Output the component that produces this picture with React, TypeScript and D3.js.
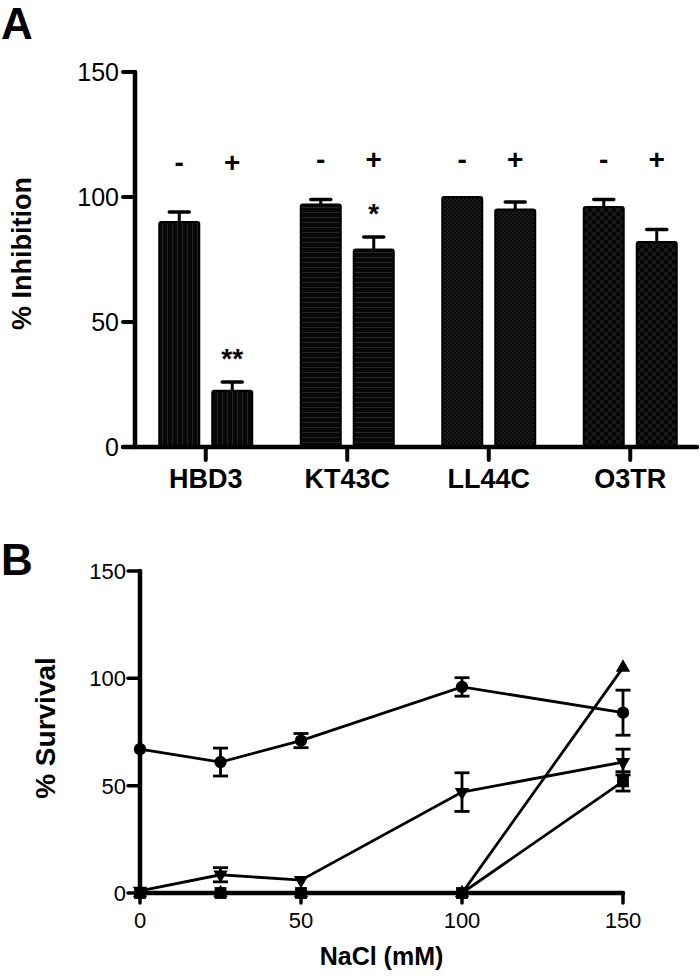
import React from "react";
import * as d3 from "d3";

// ---------- Panel A data ----------
const categories = ["HBD3", "KT43C", "LL44C", "O3TR"];
const conditions = ["-", "+"];
const inhibitionMinus = [90, 97, 100, 96];
const inhibitionMinusErr = [4, 2, 0, 3];
const inhibitionPlus = [22.5, 79, 95, 82];
const inhibitionPlusErr = [3.5, 5, 3, 5];
const significance = ["**", "*", "", ""];
const yTicksA = [0, 50, 100, 150];

// ---------- Panel B data ----------
const nacl = [0, 25, 50, 100, 150];
const circleVals = [67, 61, 71, 96, 84];
const circleErr = [0, 6.5, 3.3, 4.3, 10.5];
const downTriVals = [1, 8.5, 6, 47, 61];
const downTriErr = [0, 3.3, 0, 9, 6];
const squareVals = [0, 0, 0, 0, 52];
const squareErr = [0, 0, 0, 0, 4.5];
const upTriVals = [0, 0, 0, 0, 105];
const upTriErr = [0, 0, 0, 0, 0];
const xTicksB = [0, 50, 100, 150];
const yTicksB = [0, 50, 100, 150];

const FONT = "'Liberation Sans', Arial, Helvetica, sans-serif";
const patterns = ["patV", "patH", "patFine", "patChk"];

export default function App() {
  // Panel A scales
  const yA = d3.scaleLinear().domain([0, 150]).range([447, 72]);
  const xA = d3.scaleBand<string>().domain(categories).range([135, 701]).padding(0);
  const inner = d3.scaleBand<string>().domain(conditions).range([-46.5, 46.5]).paddingInner(0.245);

  // Panel B scales
  const xB = d3.scaleLinear().domain([0, 150]).range([140, 623]);
  const yB = d3.scaleLinear().domain([0, 150]).range([893, 571]);
  const line = d3
    .line<[number, number]>()
    .x((d) => xB(d[0]))
    .y((d) => yB(d[1]));

  const seriesB = [
    { vals: circleVals, err: circleErr, shape: "circle" },
    { vals: downTriVals, err: downTriErr, shape: "down" },
    { vals: squareVals, err: squareErr, shape: "square" },
    { vals: upTriVals, err: upTriErr, shape: "up" },
  ];

  const sym = {
    circle: d3.symbol(d3.symbolCircle, 120)(),
    square: d3.symbol(d3.symbolSquare, 140)(),
    up: d3.symbol(d3.symbolTriangle, 90)(),
  };

  const marker = (shape: string, x: number, y: number, key: string) => {
    if (shape === "down") {
      return <path key={key} d={sym.up as string} transform={`translate(${x},${y}) rotate(180)`} fill="#000" />;
    }
    return <path key={key} d={(sym as any)[shape]} transform={`translate(${x},${y})`} fill="#000" />;
  };

  return (
    <svg width={700} height={977} style={{ display: "block", position: "absolute", left: 0, top: 0, background: "#fff" }} fontFamily={FONT}>
      <defs>
        <pattern id="patV" width={5} height={5} patternUnits="userSpaceOnUse">
          <rect width={5} height={5} fill="#080808" />
          <line x1={2.5} y1={0} x2={2.5} y2={5} stroke="#252525" strokeWidth={1} />
        </pattern>
        <pattern id="patH" width={5} height={5} patternUnits="userSpaceOnUse">
          <rect width={5} height={5} fill="#080808" />
          <line x1={0} y1={2.5} x2={5} y2={2.5} stroke="#252525" strokeWidth={1} />
        </pattern>
        <pattern id="patFine" width={4} height={4} patternUnits="userSpaceOnUse">
          <rect width={4} height={4} fill="#080808" />
          <rect width={2} height={2} fill="#1a1a1a" />
          <rect x={2} y={2} width={2} height={2} fill="#1a1a1a" />
        </pattern>
        <pattern id="patChk" width={8} height={8} patternUnits="userSpaceOnUse">
          <rect width={8} height={8} fill="#060606" />
          <rect width={4} height={4} fill="#181818" />
          <rect x={4} y={4} width={4} height={4} fill="#181818" />
        </pattern>
      </defs>

      {/* ---------------- Panel A ---------------- */}
      <text x={1} y={39} fontSize={44} fontWeight="bold">A</text>
      <text
        transform={`translate(31,${(yA(0) + yA(150)) / 2 - 6}) rotate(-90)`}
        textAnchor="middle"
        fontSize={27}
        fontWeight="bold"
      >
        % Inhibition
      </text>

      {/* bars */}
      {categories.map((c, i) => {
        const cx = (xA(c) as number) + xA.bandwidth() / 2;
        const vals = [inhibitionMinus[i], inhibitionPlus[i]];
        const errs = [inhibitionMinusErr[i], inhibitionPlusErr[i]];
        return (
          <g key={c}>
            {conditions.map((cond, j) => {
              const x0 = cx + (inner(cond) as number);
              const w = inner.bandwidth();
              const top = yA(vals[j]);
              const bx = x0 + w / 2;
              return (
                <g key={cond}>
                  {errs[j] > 0 && (
                    <g stroke="#000" strokeWidth={3}>
                      <line x1={bx} x2={bx} y1={top} y2={yA(vals[j] + errs[j])} />
                      <line x1={bx - 10} x2={bx + 10} y1={yA(vals[j] + errs[j])} y2={yA(vals[j] + errs[j])} strokeWidth={3.5} strokeLinecap="round" />
                    </g>
                  )}
                  <rect
                    x={x0}
                    y={top}
                    width={w}
                    height={yA(0) - top}
                    fill={`url(#${patterns[i]})`}
                    stroke="#000"
                    strokeWidth={2}
                    rx={2}
                  />
                  <text x={bx} y={i === 0 ? 172 : 169} textAnchor="middle" fontSize={28} fontWeight="bold">
                    {cond}
                  </text>
                  {j === 1 && significance[i] && (
                    <text x={bx} y={yA(vals[j] + errs[j]) - 14} textAnchor="middle" fontSize={28} fontWeight="bold">
                      {significance[i]}
                    </text>
                  )}
                </g>
              );
            })}
          </g>
        );
      })}

      {/* axes A */}
      <line x1={135} x2={135} y1={yA(150)} y2={yA(0)} stroke="#000" strokeWidth={4.5} strokeLinecap="round" />
      <line x1={123} x2={697} y1={yA(0)} y2={yA(0)} stroke="#000" strokeWidth={4.5} strokeLinecap="round" />
      {yTicksA.map((t) => (
        <g key={t}>
          <line x1={123} x2={135} y1={yA(t)} y2={yA(t)} stroke="#000" strokeWidth={4} strokeLinecap="round" />
          <text x={119} y={yA(t) + 9} textAnchor="end" fontSize={25}>{t}</text>
        </g>
      ))}
      {categories.map((c) => {
        const cx = (xA(c) as number) + xA.bandwidth() / 2;
        return (
          <g key={c}>
            <line x1={cx} x2={cx} y1={yA(0)} y2={yA(0) + 13} stroke="#000" strokeWidth={4} strokeLinecap="round" />
            <text x={cx} y={488} textAnchor="middle" fontSize={27} fontWeight="bold">{c}</text>
          </g>
        );
      })}

      {/* ---------------- Panel B ---------------- */}
      <text x={1} y={575} fontSize={44} fontWeight="bold">B</text>
      <text
        transform={`translate(55,${(yB(0) + yB(150)) / 2 - 4}) rotate(-90)`}
        textAnchor="middle"
        fontSize={28}
        fontWeight="bold"
      >
        % Survival
      </text>
      <text x={(xB(0) + xB(150)) / 2} y={965} textAnchor="middle" fontSize={25} fontWeight="bold">
        NaCl (mM)
      </text>

      {/* axes B */}
      <line x1={xB(0)} x2={xB(0)} y1={yB(150)} y2={yB(0)} stroke="#000" strokeWidth={4.5} strokeLinecap="round" />
      <line x1={xB(0)} x2={xB(150)} y1={yB(0)} y2={yB(0)} stroke="#000" strokeWidth={4.5} strokeLinecap="round" />
      {yTicksB.map((t) => (
        <g key={t}>
          <line x1={xB(0) - 12} x2={xB(0)} y1={yB(t)} y2={yB(t)} stroke="#000" strokeWidth={3.5} strokeLinecap="round" />
          <text x={126} y={yB(t) + 8} textAnchor="end" fontSize={22}>{t}</text>
        </g>
      ))}
      {xTicksB.map((t) => (
        <g key={t}>
          <line x1={xB(t)} x2={xB(t)} y1={yB(0)} y2={yB(0) + 10} stroke="#000" strokeWidth={3.5} strokeLinecap="round" />
          <text x={xB(t)} y={928} textAnchor="middle" fontSize={22}>{t}</text>
        </g>
      ))}

      {/* series B */}
      {seriesB.map((s, si) => (
        <g key={si}>
          <path
            d={line(nacl.map((x, k) => [x, s.vals[k]] as [number, number])) as string}
            fill="none"
            stroke="#000"
            strokeWidth={2.8}
          />
          {nacl.map((x, k) =>
            s.err[k] > 0 ? (
              <g key={`e${k}`} stroke="#000" strokeWidth={2.8}>
                <line x1={xB(x)} x2={xB(x)} y1={yB(s.vals[k] - s.err[k])} y2={yB(s.vals[k] + s.err[k])} />
                <line x1={xB(x) - 7.5} x2={xB(x) + 7.5} y1={yB(s.vals[k] + s.err[k])} y2={yB(s.vals[k] + s.err[k])} />
                <line x1={xB(x) - 7.5} x2={xB(x) + 7.5} y1={yB(s.vals[k] - s.err[k])} y2={yB(s.vals[k] - s.err[k])} />
              </g>
            ) : null
          )}
          {nacl.map((x, k) => marker(s.shape, xB(x), yB(s.vals[k]), `m${k}`))}
        </g>
      ))}
    </svg>
  );
}
